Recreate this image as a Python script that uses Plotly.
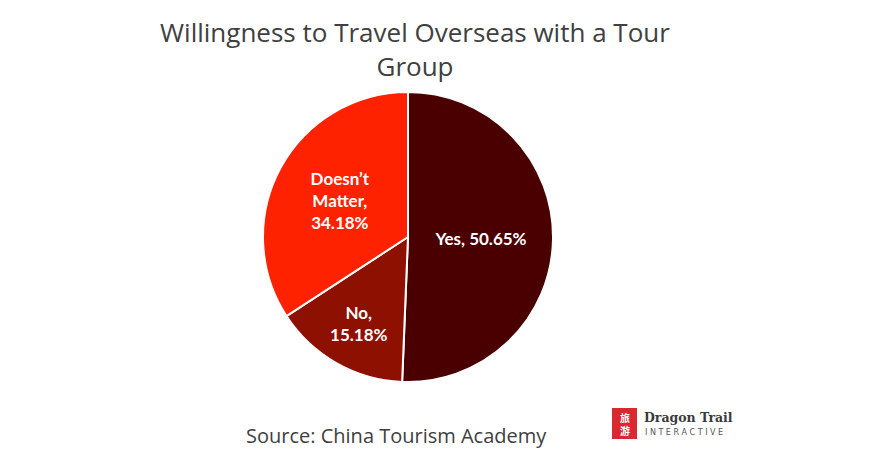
import plotly.graph_objects as go

labels = ["Yes", "No", "Doesn’t Matter"]
values = [50.65, 15.18, 34.18]
display = ["Yes, 50.65%", "No,<br>15.18%", "Doesn’t<br>Matter,<br>34.18%"]
colors = ["#4A0000", "#8E1000", "#FF2200"]

W, H = 871, 458
OX, OY = 8, 8  # page body offset
cx, cy, r = 408 - OX, 237 - OY, 145


def px(x):
    return (x - OX) / W


def py(y):
    return 1 - (y - OY) / H


fig = go.Figure(go.Pie(
    labels=labels, values=values, text=display,
    textinfo="text", textposition="inside", insidetextorientation="horizontal",
    sort=False, direction="clockwise", rotation=0,
    marker=dict(colors=colors, line=dict(color="white", width=2)),
    textfont=dict(family="Lato", size=17, color="white", weight="bold"),
    hoverinfo="label+percent",
    domain=dict(x=[(cx - r) / W, (cx + r) / W], y=[1 - (cy + r) / H, 1 - (cy - r) / H]),
    showlegend=False,
))

fig.update_layout(
    width=W, height=H,
    margin=dict(l=0, r=0, t=0, b=0),
    paper_bgcolor="white", plot_bgcolor="white",
    title=dict(text="Willingness to Travel Overseas with a Tour<br>Group",
               x=px(415), xanchor="center", y=py(42), yanchor="top",
               font=dict(family="Open Sans", size=26, color="#404040")),
    annotations=[
        dict(text="Source: China Tourism Academy", x=px(396), y=py(435),
             xref="paper", yref="paper", showarrow=False, xanchor="center", yanchor="middle",
             font=dict(family="Open Sans", size=20, color="#404040")),
        dict(text="<b>旅<br>游</b>", x=px(624.5), y=py(423.5), xref="paper", yref="paper",
             showarrow=False, xanchor="center", yanchor="middle",
             font=dict(family="Noto Sans CJK SC", size=10, color="white")),
        dict(text="<b>Dragon Trail</b>", x=px(642), y=py(417), xref="paper", yref="paper",
             showarrow=False, xanchor="left", yanchor="middle",
             font=dict(family="DejaVu Serif", size=12.5, color="#3a3a3a")),
        dict(text="I N T E R A C T I V E", x=px(643), y=py(432), xref="paper", yref="paper",
             showarrow=False, xanchor="left", yanchor="middle",
             font=dict(family="DejaVu Sans", size=8, color="#555555")),
    ],
    shapes=[
        dict(type="rect", xref="paper", yref="paper", x0=px(612), x1=px(637),
             y0=py(439), y1=py(408), fillcolor="#D9282F", line=dict(width=0)),
    ],
)

fig.write_html("out.html")
